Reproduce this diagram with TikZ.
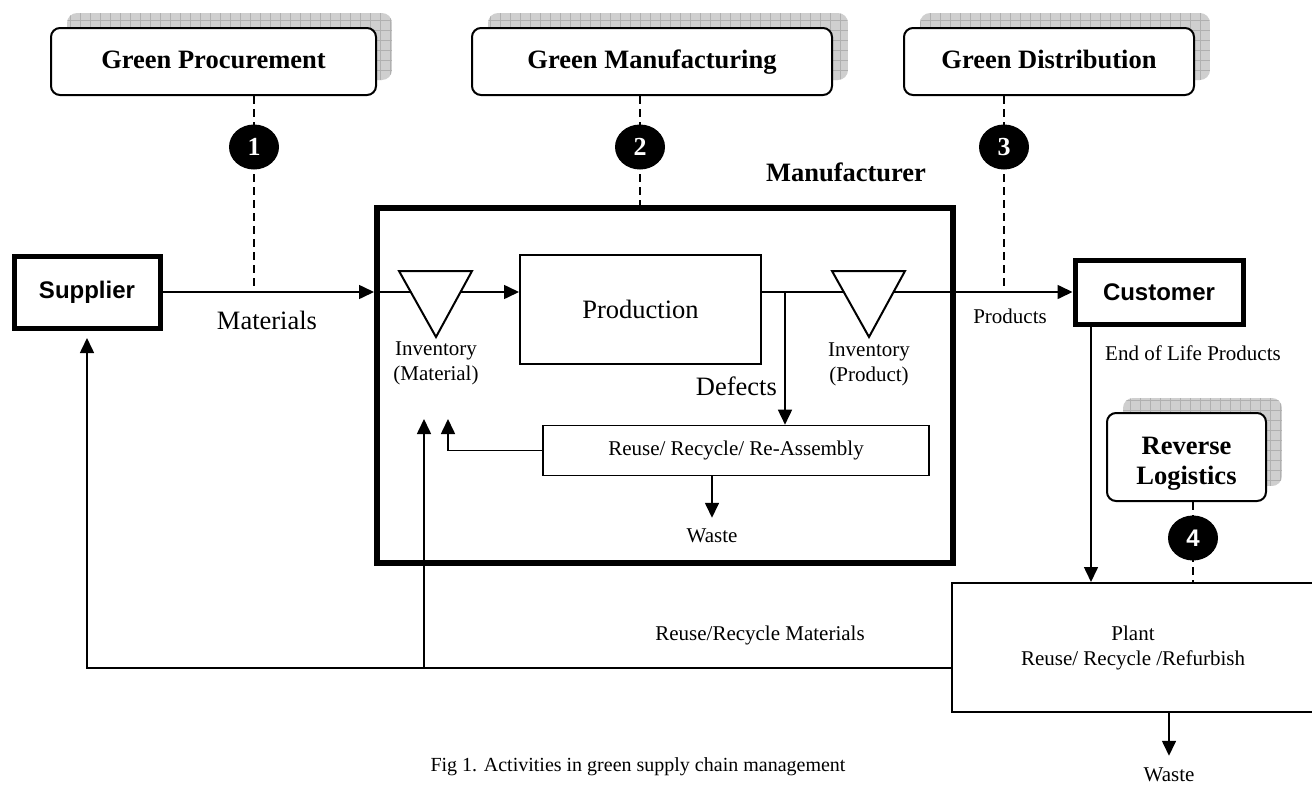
\documentclass[tikz,border=0pt]{standalone}
\usepackage{fontspec}
\setmainfont{Liberation Serif}
\setsansfont{Liberation Sans}
\usetikzlibrary{arrows.meta,shapes.geometric,calc}
\newcommand{\fs}[2]{\fontsize{#1}{#2}\selectfont}
% shadow behind a rounded box: corners (x1,y1) and (x2,y2) of the shadow
\newcommand{\myshadow}[4]{%
  \begin{scope}
    \clip[rounded corners=10pt] (#1,#2) rectangle (#3,#4);
    \fill[gray!38] (#1,#2) rectangle (#3,#4);
    \draw[gray!62, line width=0.5pt, step=10pt] (#1,#2) grid (#3,#4);
  \end{scope}}
\tikzset{
  arr/.style={line width=1.6pt, -{Triangle[length=15pt,width=14pt]}},
  dsh/.style={line width=1.6pt, dash pattern=on 8pt off 5pt},
  greenbox/.style={draw, fill=white, rounded corners=9pt, line width=2pt, inner sep=0pt,
    font=\bfseries\fs{26.5}{30}, align=center},
  heavybox/.style={draw, fill=white, line width=5pt, inner sep=0pt, font=\sffamily\bfseries\fs{24}{28}},
  procbox/.style={draw, fill=white, line width=2pt, inner sep=0pt, align=center},
  num/.style={ellipse, fill=black, minimum width=50pt, minimum height=45pt, inner sep=0pt,
    text=white, font=\bfseries\fs{26}{30}},
  lbl/.style={font=\fs{21}{25}, align=center, inner sep=0pt},
  biglbl/.style={font=\fs{26.5}{30}, align=center, inner sep=0pt},
  tri/.style={draw, fill=white, line width=2pt, line join=miter}
}
\begin{document}
\begin{tikzpicture}[x=1pt,y=-1pt]
\useasboundingbox (0,0) rectangle (1312,787);

% shadows of the activity boxes
\myshadow{67}{13}{392}{80}
\myshadow{488}{13}{848}{80}
\myshadow{920}{13}{1210}{80}
\myshadow{1123}{398}{1282}{486}

% top activity boxes
\node[greenbox, minimum width=325pt, minimum height=67pt, text height=18pt, text depth=5pt] (gp) at (213.5,61.5) {Green Procurement};
\node[greenbox, minimum width=360pt, minimum height=67pt, text height=18pt, text depth=5pt] (gm) at (652,61.5) {Green Manufacturing};
\node[greenbox, minimum width=290pt, minimum height=67pt, text height=18pt, text depth=5pt] (gd) at (1049,61.5) {Green Distribution};
\node[greenbox, minimum width=159pt, minimum height=88pt] (rl) at (1186.5,457) {};
\node[font=\bfseries\fs{26.5}{30}, align=center, inner sep=0pt] (rlt) at (1186.5,464) {Reverse\\Logistics};

% main boxes
\node[draw, line width=6pt, minimum width=576pt, minimum height=355pt, inner sep=0pt] (manuf) at (665,385.5) {};
\node[font=\bfseries\fs{26.5}{30}, inner sep=0pt] (mlabel) at (846,172) {Manufacturer};
\node[heavybox, minimum width=146pt, minimum height=72pt] (sup) at (87,292) {Supplier};
\node[heavybox, minimum width=168pt, minimum height=64pt] (cust) at (1159,292) {Customer};
\node[procbox, minimum width=241pt, minimum height=109pt, font=\fs{26.5}{30}] (prod) at (640.5,309.5) {Production};
\node[procbox, line width=1.6pt, minimum width=386pt, minimum height=50pt, font=\fs{21}{25}] (reuse) at (736,450.5) {Reuse/ Recycle/ Re-Assembly};
\node[procbox, minimum width=362pt, minimum height=129pt, font=\fs{21}{25}] (plant) at (1133,647.5) {Plant\\Reuse/ Recycle /Refurbish};

% labels
\node[biglbl] (matl) at (267,320) {Materials};
\node[lbl] (inv1) at (436,363) {Inventory\\(Material)};
\node[lbl] (inv2) at (869,364) {Inventory\\(Product)};
\node[biglbl, anchor=east] (defl) at (777,386) {Defects};
\node[lbl] (prodl) at (1010,316) {Products};
\node[lbl] (eoll) at (1193,353) {End of Life Products};
\node[lbl] (rrm) at (760,635) {Reuse/Recycle Materials};
\node[lbl] (w1) at (712,536) {Waste};
\node[lbl] (w2) at (1169,775) {Waste};
\node[font=\fs{20}{24}, inner sep=0pt] (cap) at (638,767) {Fig 1. Activities in green supply chain management};

% helper coordinates
\coordinate (br) at (785,292);
\coordinate (t1) at (424,419);
\coordinate (t2) at (448,419);
\coordinate (ret) at (952,668);
\coordinate (eol) at (1091,400);
\coordinate (supin) at (87,338);
\coordinate (c1p) at (254,147);
\coordinate (c2p) at (640,147);
\coordinate (c3p) at (1004,147);
\coordinate (c4p) at (1193,538);

% dashed links
\draw[dsh] (c1p |- gp.south) -- (c1p |- sup.east);
\draw[dsh] (c2p |- gm.south) -- (c2p |- manuf.north);
\draw[dsh] (c3p |- gd.south) -- (c3p |- cust.west);
\draw[dsh] (c4p |- rl.south) -- (c4p |- plant.north);

% flows
\draw[arr] (sup.east) -- (sup.east -| manuf.west);
\draw[arr] (sup.east -| manuf.west) -- (sup.east -| prod.west);
\draw[arr] (sup.east -| prod.east) -- (cust.west);
\draw[arr] (br) -- (br |- reuse.north);
\draw[arr] (reuse.west) -| (t2);
\draw[arr] (ret) -| (t1);
\draw[arr] (t1 |- ret) -| (supin);
\draw[arr] (cust.south -| eol) -- (eol |- plant.north);
\draw[arr, shorten >=11pt] (reuse.south -| w1) -- (w1.north);
\draw[arr, shorten >=12pt] (plant.south -| w2) -- (w2.north);

% inventory triangles
\draw[tri] (399,271) -- (472,271) -- (436,337) -- cycle;
\draw[tri] (832,271) -- (905,271) -- (869,337) -- cycle;

% numbered markers
\node[num] (n1) at (c1p) {1};
\node[num] (n2) at (c2p) {2};
\node[num] (n3) at (c3p) {3};
\node[num, font=\sffamily\bfseries\fs{24}{28}] (n4) at (c4p) {4};
\end{tikzpicture}
\end{document}
